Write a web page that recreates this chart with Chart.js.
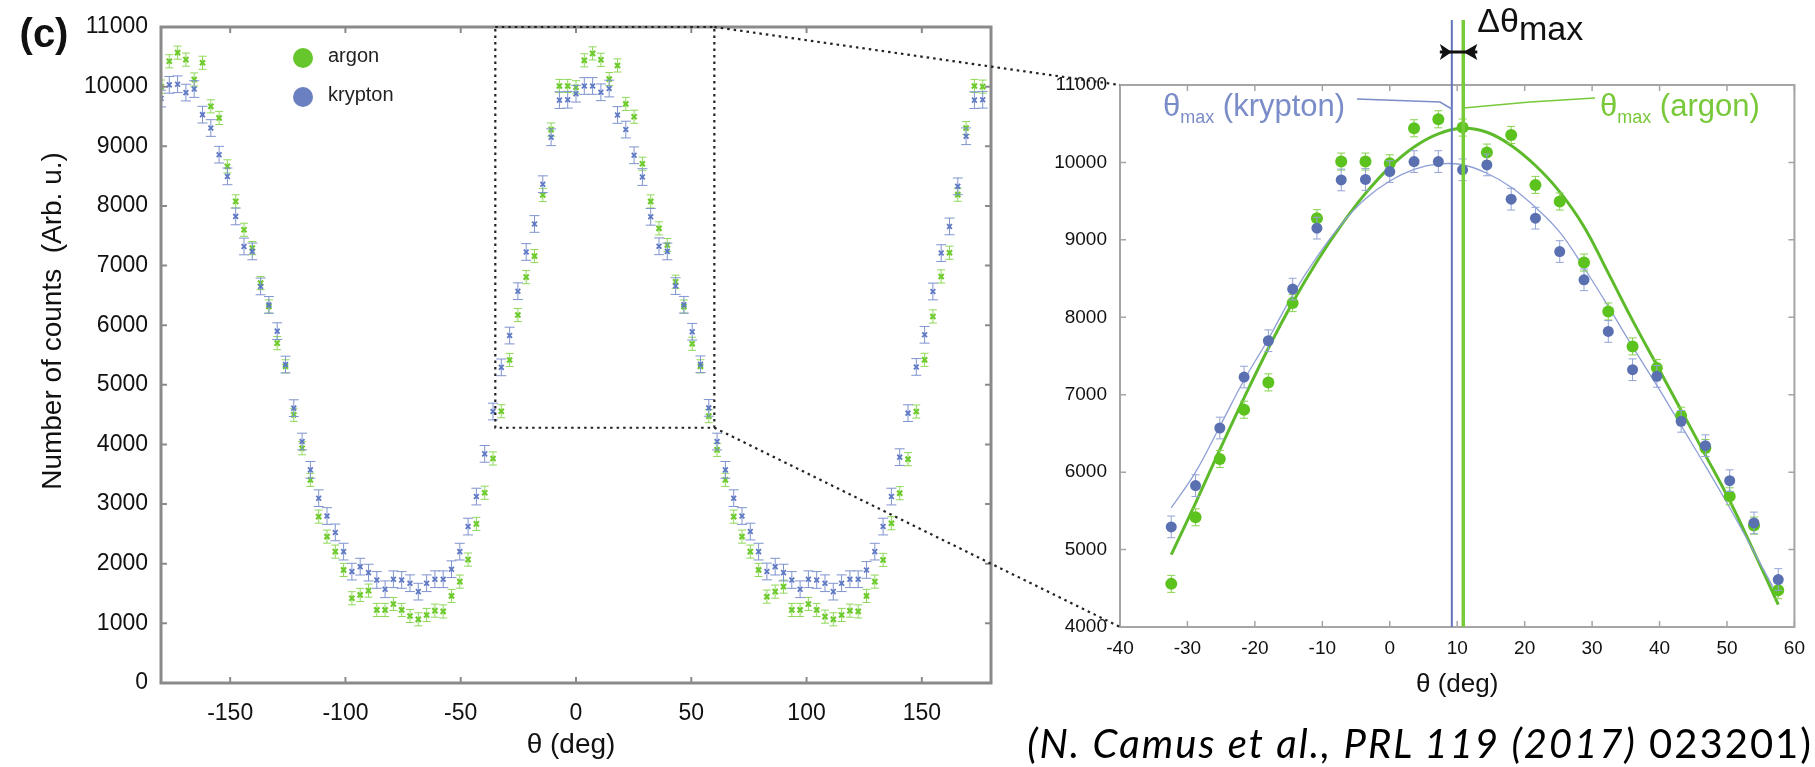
<!DOCTYPE html>
<html>
<head>
<meta charset="utf-8">
<title>Argon / krypton angular distribution</title>
<script src="https://cdn.jsdelivr.net/npm/chart.js@4.4.1/dist/chart.umd.min.js"></script>
<style>
  html, body { margin: 0; padding: 0; background: #fff; }
  body { width: 1815px; height: 767px; position: relative; overflow: hidden; }
  canvas { position: absolute; left: 0; top: 0; }
  #cite { position: absolute; right: 2px; top: 719px; font: 40px Lato, 'Open Sans', sans-serif; letter-spacing: 2px; color: #000; white-space: nowrap; }
</style>
</head>
<body>
<canvas id="fullChart" width="1815" height="767"></canvas>
<canvas id="zoomChart" width="1815" height="767"></canvas>
<div id="cite"><i>(N. Camus et al., PRL 119 (2017)</i> 023201)</div>
<script>
// angle of each bin (deg)
const theta = [
  -180, -176.4, -172.8, -169.2, -165.6, -162, -158.4, -154.8, -151.2, -147.6,
  -144, -140.4, -136.8, -133.2, -129.6, -126, -122.4, -118.8, -115.2, -111.6,
  -108, -104.4, -100.8, -97.2, -93.6, -90, -86.4, -82.8, -79.2, -75.6,
  -72, -68.4, -64.8, -61.2, -57.6, -54, -50.4, -46.8, -43.2, -39.6,
  -36, -32.4, -28.8, -25.2, -21.6, -18, -14.4, -10.8, -7.2, -3.6,
  0, 3.6, 7.2, 10.8, 14.4, 18, 21.6, 25.2, 28.8, 32.4,
  36, 39.6, 43.2, 46.8, 50.4, 54, 57.6, 61.2, 64.8, 68.4,
  72, 75.6, 79.2, 82.8, 86.4, 90, 93.6, 97.2, 100.8, 104.4,
  108, 111.6, 115.2, 118.8, 122.4, 126, 129.6, 133.2, 136.8, 140.4,
  144, 147.6, 151.2, 154.8, 158.4, 162, 165.6, 169.2, 172.8, 176.4
];

// number of counts (arb. u.)
const argonCounts = [
  10000, 10425, 10570, 10453, 10120, 10400, 9670, 9475, 8663, 8076,
  7600, 7293, 6706, 6314, 5699, 5310, 4497, 3937, 3406, 2790,
  2455, 2203, 1896, 1421, 1477, 1549, 1225, 1225, 1325, 1225,
  1124, 1068, 1141, 1213, 1200, 1460, 1700, 2070, 2668, 3190,
  3765, 4557, 5417, 6170, 6806, 7159, 8183, 9280, 10011, 10011,
  9989, 10441, 10557, 10450, 10127, 10355, 9710, 9495, 8707, 8075,
  7624, 7344, 6729, 6312, 5688, 5310, 4475, 3909, 3406, 2790,
  2455, 2203, 1896, 1448, 1532, 1616, 1225, 1225, 1325, 1225,
  1113, 1068, 1141, 1213, 1200, 1460, 1700, 2064, 2679, 3183,
  3753, 4552, 5419, 6146, 6817, 7215, 8188, 9306, 10011, 10000
];
const kryptonCounts = [
  9800, 10030, 10040, 9900, 9960, 9530, 9306, 8859, 8495, 7824,
  7320, 7237, 6650, 6340, 5900, 5340, 4609, 4049, 3574, 3099,
  2800, 2525, 2203, 1868, 1951, 1851, 1728, 1572, 1740, 1728,
  1673, 1532, 1673, 1740, 1740, 1908, 2203, 2623, 3126, 3842,
  4552, 5293, 5826, 6570, 7228, 7697, 8364, 9151, 9774, 9780,
  9882, 10011, 10011, 9905, 9968, 9525, 9280, 8849, 8484, 7817,
  7323, 7237, 6656, 6342, 5890, 5344, 4613, 4049, 3574, 3099,
  2800, 2539, 2203, 1870, 1951, 1851, 1728, 1572, 1740, 1728,
  1673, 1532, 1673, 1740, 1740, 1896, 2203, 2623, 3126, 3787,
  4525, 5300, 5839, 6565, 7209, 7656, 8328, 9168, 9774, 9780
];
const argonErr = 110;
const kryptonErr = 140;

// fitted curves drawn in the zoomed panel
const fitTheta = [-32.4, -28.8, -25.2, -21.6, -18, -14.4, -10.8, -7.2, -3.6, 0, 3.6, 7.2, 10.8,
  14.4, 18, 21.6, 25.2, 28.8, 32.4, 36, 39.6, 43.2, 46.8, 50.4, 54, 57.6];
const argonFit = [4935, 5600, 6290, 6960, 7600, 8190, 8720, 9190, 9600, 9940, 10200, 10370, 10440,
  10390, 10220, 9960, 9620, 9170, 8570, 7960, 7380, 6800, 6220, 5630, 4970, 4290];
const kryptonFit = [5540, 6000, 6590, 7190, 7720, 8290, 8780, 9200, 9530, 9760, 9910, 9980, 9970,
  9860, 9680, 9420, 9100, 8640, 8140, 7620, 7120, 6600, 6080, 5540, 4970, 4390];

// fitted maxima (deg)
const thetaMaxKr = 9.2;
const thetaMaxAr = 10.9;

// dotted window in the full panel that the right panel magnifies
const zoomBox = { x0: -35, x1: 60, y0: 4280, y1: 11000 };

const fullXTicks = [-150, -100, -50, 0, 50, 100, 150];
const fullYTicks = [0, 1000, 2000, 3000, 4000, 5000, 6000, 7000, 8000, 9000, 10000, 11000];
const zoomXTicks = [-40, -30, -20, -10, 0, 10, 20, 30, 40, 50, 60];
const zoomYTicks = [4000, 5000, 6000, 7000, 8000, 9000, 10000, 11000];

const FONT = "'Liberation Sans', Arial, Helvetica, sans-serif";
const GREEN = '#66c62c';
const BLUE = '#6a80c0';

function points(xs, ys) {
  return xs.map((x, i) => ({ x: x, y: ys[i] }));
}
function inZoom(p) {
  return p.x >= zoomBox.x0 && p.x <= zoomBox.x1;
}
const plain = v => String(v);

// vertical error bars with caps, under each dataset's markers
const errorBars = {
  id: 'errorBars',
  beforeDatasetDraw(chart, args) {
    const ds = chart.data.datasets[args.index];
    if (!ds.err) return;
    const ctx = chart.ctx, y = chart.scales.y, a = chart.chartArea;
    ctx.save();
    ctx.beginPath();
    ctx.rect(a.left, a.top, a.width, a.height);
    ctx.clip();
    ctx.strokeStyle = ds.errColor;
    ctx.lineWidth = 1;
    args.meta.data.forEach((el, i) => {
      const v = ds.data[i].y;
      const y1 = y.getPixelForValue(v + ds.err);
      const y2 = y.getPixelForValue(v - ds.err);
      const c = ds.capHalf;
      ctx.beginPath();
      ctx.moveTo(el.x, y1); ctx.lineTo(el.x, y2);
      ctx.moveTo(el.x - c, y1); ctx.lineTo(el.x + c, y1);
      ctx.moveTo(el.x - c, y2); ctx.lineTo(el.x + c, y2);
      ctx.stroke();
    });
    ctx.restore();
  }
};

// box round the plot with inward ticks on all four sides
const frame = {
  id: 'frame',
  afterDatasetsDraw(chart, args, o) {
    const ctx = chart.ctx, a = chart.chartArea;
    const x = chart.scales.x, y = chart.scales.y;
    ctx.save();
    ctx.strokeStyle = o.color;
    ctx.lineWidth = o.tickWidth;
    ctx.beginPath();
    x.ticks.forEach(t => {
      const p = x.getPixelForValue(t.value);
      ctx.moveTo(p, a.bottom); ctx.lineTo(p, a.bottom - o.len);
      ctx.moveTo(p, a.top); ctx.lineTo(p, a.top + o.len);
    });
    y.ticks.forEach(t => {
      const p = y.getPixelForValue(t.value);
      ctx.moveTo(a.left, p); ctx.lineTo(a.left + o.len, p);
      ctx.moveTo(a.right, p); ctx.lineTo(a.right - o.len, p);
    });
    ctx.stroke();
    ctx.lineWidth = o.width;
    ctx.strokeRect(a.left, a.top, a.width, a.height);
    ctx.restore();
  }
};

function dotted(ctx) {
  ctx.strokeStyle = '#222';
  ctx.lineWidth = 2.2;
  ctx.setLineDash([2.5, 4]);
}

// legend, titles and the dotted window of the full panel
const fullDecor = {
  id: 'fullDecor',
  afterDraw(chart) {
    const ctx = chart.ctx, x = chart.scales.x, y = chart.scales.y, a = chart.chartArea;
    ctx.save();
    dotted(ctx);
    const bx0 = x.getPixelForValue(zoomBox.x0), bx1 = x.getPixelForValue(zoomBox.x1);
    const by0 = y.getPixelForValue(zoomBox.y0), by1 = y.getPixelForValue(zoomBox.y1);
    ctx.strokeRect(bx0, by1, bx1 - bx0, by0 - by1);
    ctx.setLineDash([]);

    // legend
    const legend = [[chart.data.datasets[1], 31], [chart.data.datasets[0], 70]];
    ctx.font = '20px ' + FONT;
    ctx.textBaseline = 'middle';
    ctx.textAlign = 'left';
    legend.forEach(([ds, dy]) => {
      ctx.fillStyle = ds.legendColor;
      ctx.beginPath();
      ctx.arc(a.left + 142, a.top + dy, 10, 0, Math.PI * 2);
      ctx.fill();
      ctx.fillStyle = '#222';
      ctx.fillText(ds.label, a.left + 167, a.top + dy - 2);
    });

    // panel letter and axis titles
    ctx.fillStyle = '#111';
    ctx.textAlign = 'center';
    ctx.font = 'bold 40px ' + FONT;
    ctx.fillText('(c)', 44, 36);
    ctx.font = '28px ' + FONT;
    ctx.fillText('\u03b8 (deg)', (a.left + a.right) / 2 - 5, 745);
    ctx.save();
    ctx.translate(53, (a.top + a.bottom) / 2 - 34);
    ctx.rotate(-Math.PI / 2);
    ctx.fillText('Number of counts  (Arb. u.)', 0, 0);
    ctx.restore();
    ctx.restore();
  }
};

const leftChart = new Chart(document.getElementById('fullChart'), {
  type: 'scatter',
  data: {
    datasets: [
      {
        label: 'krypton',
        data: points(theta, kryptonCounts),
        pointStyle: 'crossRot', pointRadius: 3.4, borderWidth: 1.8,
        borderColor: '#5f79c4', backgroundColor: '#5f79c4',
        legendColor: BLUE,
        err: kryptonErr, errColor: '#7f93cf', capHalf: 5
      },
      {
        label: 'argon',
        data: points(theta, argonCounts),
        pointStyle: 'crossRot', pointRadius: 3.6, borderWidth: 2.2,
        borderColor: '#6fcb30', backgroundColor: '#6fcb30',
        legendColor: GREEN,
        err: argonErr, errColor: '#8fd85a', capHalf: 4
      }
    ]
  },
  options: {
    responsive: false,
    animation: false,
    events: [],
    layout: { padding: { left: 0, top: 27, right: 824, bottom: 0 } },
    scales: {
      x: {
        min: -180, max: 180,
        afterBuildTicks: s => { s.ticks = fullXTicks.map(v => ({ value: v })); },
        afterFit: s => { s.height = 84; },
        grid: { display: false, drawTicks: false },
        border: { display: false },
        ticks: { padding: 17, color: '#111', font: { family: FONT, size: 23 }, maxRotation: 0, callback: plain }
      },
      y: {
        min: 0, max: 11000,
        afterBuildTicks: s => { s.ticks = fullYTicks.map(v => ({ value: v })); },
        afterFit: s => { s.width = 161; },
        grid: { display: false, drawTicks: false },
        border: { display: false },
        ticks: { padding: 13, color: '#111', font: { family: FONT, size: 23 }, callback: plain }
      }
    },
    plugins: {
      legend: { display: false },
      tooltip: { enabled: false },
      frame: { color: '#8a8a8a', width: 3, tickWidth: 2, len: 6 }
    }
  },
  plugins: [errorBars, frame, fullDecor]
});

function thetaMaxLabel(ctx, x, y, name, color) {
  ctx.fillStyle = color;
  ctx.textAlign = 'left';
  ctx.textBaseline = 'alphabetic';
  ctx.font = '31px ' + FONT;
  ctx.fillText('\u03b8', x, y);
  x += ctx.measureText('\u03b8').width;
  ctx.font = '18px ' + FONT;
  ctx.fillText('max', x, y + 7);
  x += ctx.measureText('max').width;
  ctx.font = '31px ' + FONT;
  ctx.fillText(' (' + name + ')', x, y);
}

// markers of the two maxima, their labels and the links to the full panel
const zoomDecor = {
  id: 'zoomDecor',
  afterDraw(chart) {
    const ctx = chart.ctx, x = chart.scales.x, a = chart.chartArea;
    const xk = x.getPixelForValue(thetaMaxKr), xa = x.getPixelForValue(thetaMaxAr);
    ctx.save();

    // vertical lines at the maxima
    ctx.strokeStyle = '#6275bb'; ctx.lineWidth = 2;
    ctx.beginPath(); ctx.moveTo(xk, 20); ctx.lineTo(xk, a.bottom); ctx.stroke();
    ctx.strokeStyle = '#76cc38'; ctx.lineWidth = 3.5;
    ctx.beginPath(); ctx.moveTo(xa, 20); ctx.lineTo(xa, a.bottom); ctx.stroke();

    // delta arrows
    const ay = 52;
    ctx.fillStyle = '#111'; ctx.strokeStyle = '#111'; ctx.lineWidth = 3;
    ctx.beginPath(); ctx.moveTo(xk - 12, ay); ctx.lineTo(xa + 14, ay); ctx.stroke();
    ctx.beginPath();
    ctx.moveTo(xk, ay); ctx.lineTo(xk - 12, ay - 8); ctx.lineTo(xk - 9, ay); ctx.lineTo(xk - 12, ay + 8);
    ctx.closePath(); ctx.fill();
    ctx.beginPath();
    ctx.moveTo(xa, ay); ctx.lineTo(xa + 14, ay - 8); ctx.lineTo(xa + 11, ay); ctx.lineTo(xa + 14, ay + 8);
    ctx.closePath(); ctx.fill();

    ctx.textAlign = 'left';
    ctx.textBaseline = 'alphabetic';
    ctx.font = '34px ' + FONT;
    ctx.fillText('\u0394\u03b8', xa + 14, 32);
    const w = ctx.measureText('\u0394\u03b8').width;
    ctx.fillText('max', xa + 14 + w, 40);

    // labels with leader lines
    thetaMaxLabel(ctx, 1163, 116, 'krypton', '#7b8dc8');
    thetaMaxLabel(ctx, 1600, 116, 'argon', '#78c93a');
    ctx.lineWidth = 1.5;
    ctx.strokeStyle = '#7b8dc8';
    ctx.beginPath(); ctx.moveTo(1357, 99); ctx.lineTo(1440, 102); ctx.lineTo(xk, 109); ctx.stroke();
    ctx.strokeStyle = '#78c93a';
    ctx.beginPath(); ctx.moveTo(xa, 108); ctx.lineTo(1530, 102); ctx.lineTo(1595, 98); ctx.stroke();

    // axis title
    ctx.fillStyle = '#111';
    ctx.textAlign = 'center';
    ctx.textBaseline = 'middle';
    ctx.font = '26px ' + FONT;
    ctx.fillText('\u03b8 (deg)', (a.left + a.right) / 2, 685);

    // dotted links from the window of the full panel
    const lx = leftChart.scales.x, ly = leftChart.scales.y;
    const px = lx.getPixelForValue(zoomBox.x1);
    dotted(ctx);
    ctx.beginPath();
    ctx.moveTo(px, ly.getPixelForValue(zoomBox.y1)); ctx.lineTo(a.left, a.top);
    ctx.moveTo(px, ly.getPixelForValue(zoomBox.y0)); ctx.lineTo(a.left, a.bottom);
    ctx.stroke();
    ctx.restore();
  }
};

new Chart(document.getElementById('zoomChart'), {
  type: 'scatter',
  data: {
    datasets: [
      {
        label: 'krypton',
        data: points(theta, kryptonCounts).filter(inZoom),
        pointRadius: 5.5, borderWidth: 0,
        backgroundColor: '#5a70b0',
        err: kryptonErr, errColor: '#93a3d6', capHalf: 4
      },
      {
        label: 'argon',
        data: points(theta, argonCounts).filter(inZoom),
        pointRadius: 6, borderWidth: 0,
        backgroundColor: '#5cc21e',
        err: argonErr, errColor: '#86d24e', capHalf: 4
      },
      {
        label: 'krypton fit',
        data: points(fitTheta, kryptonFit),
        showLine: true, pointRadius: 0, tension: 0.4,
        borderColor: '#8e9fd6', borderWidth: 1.3
      },
      {
        label: 'argon fit',
        data: points(fitTheta, argonFit),
        showLine: true, pointRadius: 0, tension: 0.4,
        borderColor: '#5dba2a', borderWidth: 3
      }
    ]
  },
  options: {
    responsive: false,
    animation: false,
    events: [],
    layout: { padding: { left: 1050, top: 85, right: 15, bottom: 60 } },
    scales: {
      x: {
        min: -40, max: 60,
        afterBuildTicks: s => { s.ticks = zoomXTicks.map(v => ({ value: v })); },
        afterFit: s => { s.height = 80; },
        grid: { display: false, drawTicks: false },
        border: { display: false },
        ticks: { padding: 10, color: '#111', font: { family: FONT, size: 19 }, maxRotation: 0, callback: plain }
      },
      y: {
        min: 4000, max: 11000,
        afterBuildTicks: s => { s.ticks = zoomYTicks.map(v => ({ value: v })); },
        afterFit: s => { s.width = 70; },
        grid: { display: false, drawTicks: false },
        border: { display: false },
        ticks: { padding: 13, color: '#111', font: { family: FONT, size: 19 }, callback: plain }
      }
    },
    plugins: {
      legend: { display: false },
      tooltip: { enabled: false },
      frame: { color: '#a5a5a5', width: 2, tickWidth: 1.5, len: 6 }
    }
  },
  plugins: [errorBars, frame, zoomDecor]
});
</script>
</body>
</html>
